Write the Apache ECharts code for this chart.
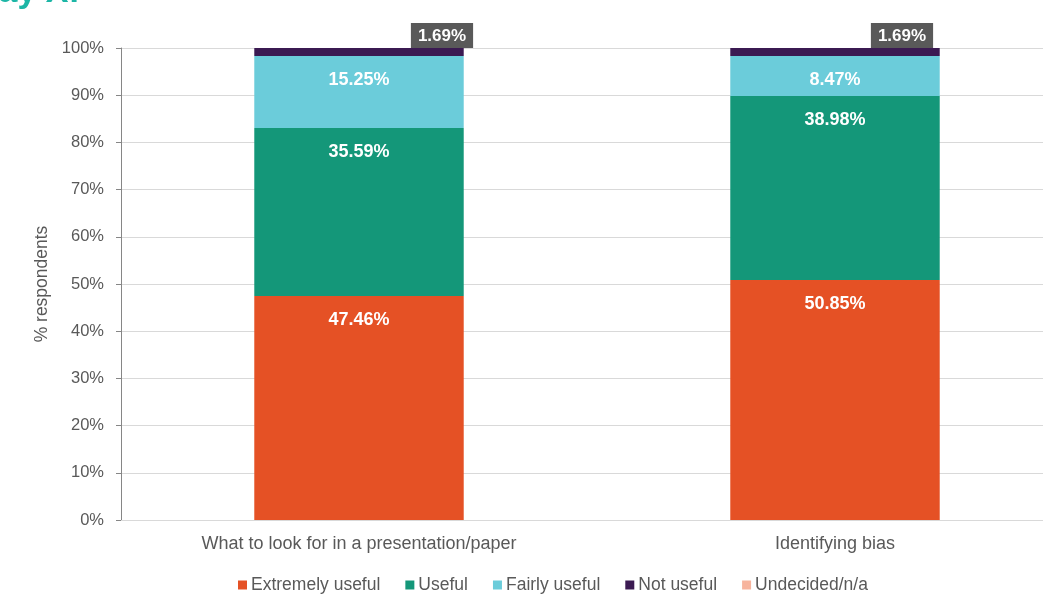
<!DOCTYPE html>
<html>
<head>
<meta charset="utf-8">
<script src="https://cdn.jsdelivr.net/npm/echarts@6/dist/echarts.min.js"></script>
<style>
  html, body { margin: 0; padding: 0; background: #ffffff; overflow: hidden; }
  /* the plot runs slightly past the right edge of the window */
  #chart { width: 1073px; height: 595px; }
</style>
</head>
<body>
<div id="chart"></div>
<script>
// Survey results: usefulness of each training topic (% of respondents)
const categories = ['What to look for in a presentation/paper', 'Identifying bias'];
const extremelyUseful = [47.46, 50.85];
const useful = [35.59, 38.98];
const fairlyUseful = [15.25, 8.47];
const notUseful = [1.69, 1.69];
const undecided = [0, 0];
const yTicks = [0, 10, 20, 30, 40, 50, 60, 70, 80, 90, 100];

const FONT = "'Liberation Sans', Arial, sans-serif";
const GREY = '#595959';

const chart = echarts.init(document.getElementById('chart'), null, { renderer: 'canvas' });

// white value labels sitting just inside the top of each segment
function insideLabel() {
  return {
    show: true,
    position: 'insideTop',
    distance: 15,
    color: '#ffffff',
    fontFamily: FONT,
    fontWeight: 'bold',
    fontSize: 18,
    formatter: p => p.value.toFixed(2) + '%'
  };
}

// the thin "Not useful" slices get a boxed label above the bar
const notUsefulOffsets = [[83, 0], [67, 0]];

const series = [
  { name: 'Extremely useful', data: extremelyUseful, color: '#E55125', label: insideLabel() },
  { name: 'Useful', data: useful, color: '#149779', label: insideLabel() },
  { name: 'Fairly useful', data: fairlyUseful, color: '#6BCCDA', label: insideLabel() },
  {
    name: 'Not useful',
    data: notUseful.map((v, i) => ({
      value: v,
      label: { offset: notUsefulOffsets[i] }
    })),
    color: '#3B1A52',
    label: {
      show: true,
      position: 'top',
      distance: 0,
      color: '#ffffff',
      backgroundColor: '#595959',
      padding: [5, 7, 3, 7],
      fontFamily: FONT,
      fontWeight: 'bold',
      fontSize: 17,
      formatter: p => p.value.toFixed(2) + '%'
    }
  },
  { name: 'Undecided/n/a', data: undecided, color: '#F7B49D', label: { show: false } }
].map(s => Object.assign({
  type: 'bar',
  stack: 'total',
  barWidth: '44%',
  itemStyle: { color: s.color },
  emphasis: { disabled: true }
}, s));

chart.setOption({
  animation: false,
  backgroundColor: '#ffffff',
  graphic: [{
    type: 'text',
    left: -26,
    top: -24,
    style: {
      text: 'Day X:',
      fill: '#1DB6A6',
      font: "bold 34px 'Liberation Sans', Arial, sans-serif"
    }
  }],
  grid: { left: 121, top: 48, width: 952, height: 472, containLabel: false },
  legend: {
    left: 233,
    top: 571,
    itemWidth: 9,
    itemHeight: 9,
    itemGap: 25,
    icon: 'rect',
    textStyle: { color: GREY, fontFamily: FONT, fontSize: 17.5, padding: [0, 0, 0, -1] },
    data: series.map(s => s.name)
  },
  xAxis: {
    type: 'category',
    data: categories,
    axisLine: { show: true, lineStyle: { color: '#d9d9d9', width: 1 } },
    axisTick: { show: false },
    axisLabel: { color: GREY, fontFamily: FONT, fontSize: 18, margin: 15 }
  },
  yAxis: {
    type: 'value',
    min: yTicks[0],
    max: yTicks[yTicks.length - 1],
    interval: yTicks[1] - yTicks[0],
    name: '% respondents',
    nameLocation: 'middle',
    nameGap: 70,
    nameRotate: 90,
    nameTextStyle: { color: GREY, fontFamily: FONT, fontSize: 17.5 },
    axisLine: { show: true, lineStyle: { color: '#868686', width: 1 } },
    axisTick: { show: true, inside: false, length: 5, lineStyle: { color: '#868686' } },
    axisLabel: { color: GREY, fontFamily: FONT, fontSize: 16.5, margin: 17, formatter: '{value}%' },
    splitLine: { show: true, lineStyle: { color: '#d9d9d9', width: 1 } }
  },
  series: series
});
</script>
</body>
</html>
